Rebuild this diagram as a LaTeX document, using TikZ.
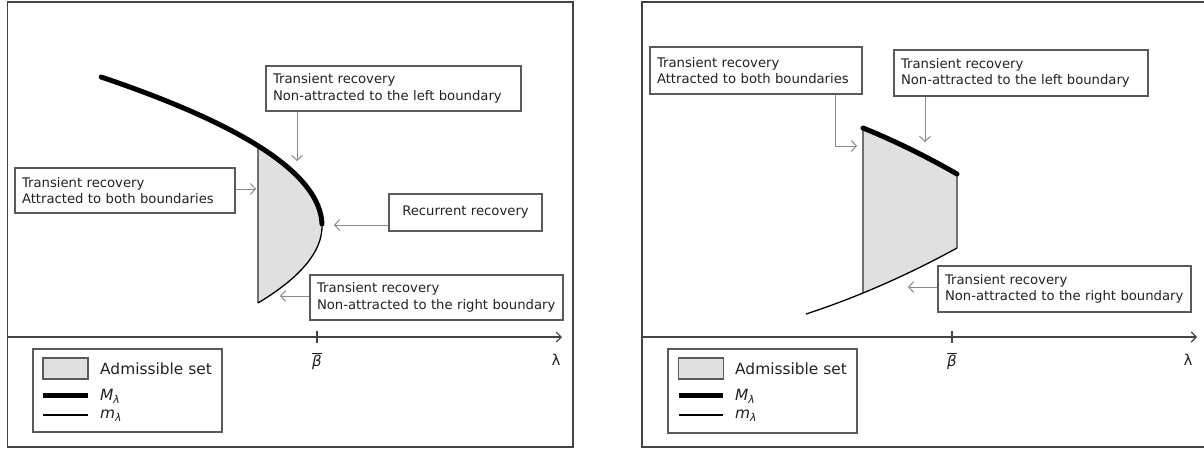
\documentclass[tikz,border=0pt]{standalone}
\usepackage{fontspec}
\setmainfont{DejaVu Sans}
\usetikzlibrary{arrows.meta}
\definecolor{framecol}{HTML}{444444}
\definecolor{boxcol}{HTML}{5A5A5A}
\definecolor{arrcol}{HTML}{8A8A8A}
\definecolor{fillcol}{HTML}{E0E0E0}
\definecolor{txtcol}{HTML}{222222}
\definecolor{vcol}{HTML}{707070}
\begin{document}
\begin{tikzpicture}[x=1pt,y=-1pt,
  frame/.style={draw=framecol,line width=1.4pt},
  box/.style={draw=boxcol,line width=1.4pt,fill=white,text=txtcol,
    font=\fontsize{13.2}{16.5}\selectfont,align=left,inner xsep=7pt,inner ysep=0pt},
  cbox/.style={box,align=center},
  arr/.style={draw=arrcol,line width=1pt,-{Straight Barb[length=5pt,width=11pt]}},
  axisline/.style={draw=framecol,line width=1.1pt,-{Straight Barb[length=5pt,width=10pt]}},
  tick/.style={draw=framecol,line width=1.1pt},
  Mline/.style={draw=black,line width=5pt,line cap=round},
  mline/.style={draw=black,line width=1.3pt},
  vline/.style={draw=vcol,line width=1.3pt},
  admfill/.style={fill=fillcol},
  legbox/.style={draw=boxcol,line width=1.4pt,fill=white},
  swatch/.style={draw=boxcol,line width=1.4pt,fill=fillcol,inner sep=0pt,minimum width=45pt,minimum height=21pt},
  legtxt/.style={anchor=west,text=txtcol,font=\fontsize{15.4}{18}\selectfont,inner sep=0pt},
  axtxt/.style={text=txtcol,font=\fontsize{15}{18}\selectfont,inner sep=0pt}
]
\useasboundingbox (0,0) rectangle (1204,448);

% ---------------- left panel ----------------
\draw[frame] (7.5,2) rectangle (573,447);

% admissible set
\fill[admfill] plot[domain=146:226,samples=50,variable=\t]
   ({322-0.995*((\t-226)/10)*((\t-226)/10)},\t)
   -- plot[domain=226:303,samples=50,variable=\t]
   ({322-1.08*((\t-226)/10)*((\t-226)/10)},\t) -- cycle;
\draw[vline] (258,146) -- (258,303);
\draw[mline] plot[domain=223:303,samples=50,variable=\t]
   ({322-1.08*((\t-226)/10)*((\t-226)/10)},\t);
\draw[Mline] plot[domain=77:224,samples=80,variable=\t]
   ({322-0.995*((\t-226)/10)*((\t-226)/10)},\t);

% axis
\coordinate (oL) at (7.5,337);
\coordinate (eL) at (562,337);
\draw[axisline] (oL) -- (eL);
\coordinate (tkL) at (317,337);
\draw[tick] (317,331) -- (317,343);
\node[axtxt] (betaL) at (317,361) {$\overline{\mbox{\itshape β}}$};
\node[axtxt] (lamL) at (556,360) {λ};

% boxes
\node[box,text width=241pt,minimum height=45pt] (A) at (393.5,88.5)
  {Transient recovery\\Non-attracted to the left boundary};
\node[box,text width=206pt,minimum height=45pt] (B) at (125,190.5)
  {Transient recovery\\Attracted to both boundaries};
\node[cbox,text width=139pt,minimum height=37pt] (C) at (465.5,212.5)
  {Recurrent recovery};
\node[box,text width=239pt,minimum height=45pt] (D) at (436.5,297.5)
  {Transient recovery\\Non-attracted to the right boundary};

\coordinate (tA) at (297,161);
\coordinate (tB) at (256,189);
\coordinate (tC) at (334,225);
\coordinate (tD) at (280,296);
\draw[arr] (A.south -| tA) -- (tA);
\draw[arr] (B.east |- tB) -- (tB);
\draw[arr] (C.west |- tC) -- (tC);
\draw[arr] (D.west |- tD) -- (tD);

% legend
\node[legbox,minimum width=189pt,minimum height=83pt,inner sep=0pt] (legL) at (127.5,390.5) {};
\node[swatch] (swL) at (65.5,368.5) {};
\node[legtxt] (admL) at (100,369) {Admissible set};
\draw[Mline,line cap=butt] (43,395) -- (88,395);
\node[legtxt] (ML) at (100,396) {\textit{M}\textsubscript{\textit{λ}}};
\draw[mline] (43,415) -- (88,415);
\node[legtxt] (mL) at (100,416) {\textit{m}\textsubscript{\textit{λ}}};

% ---------------- right panel ----------------
\draw[frame] (1205,2) -- (642,2) -- (642,447) -- (1205,447);

\fill[admfill] plot[domain=863:957,samples=40]
   (\x,{128+0.4048*(\x-863)+0.09*((\x-863)/10)*((\x-863)/10)})
   -- plot[domain=957:863,samples=40]
   (\x,{314-0.3267*(\x-806)-0.0731*((\x-806)/10)*((\x-806)/10)}) -- cycle;
\draw[vline] (863,128) -- (863,293);
\draw[vline] (957,174) -- (957,248);
\draw[mline] plot[domain=806:957,samples=60]
   (\x,{314-0.3267*(\x-806)-0.0731*((\x-806)/10)*((\x-806)/10)});
\draw[Mline] plot[domain=863:957,samples=40]
   (\x,{128+0.4048*(\x-863)+0.09*((\x-863)/10)*((\x-863)/10)});

% axis
\coordinate (oR) at (642,337);
\coordinate (eR) at (1197,337);
\draw[axisline] (oR) -- (eR);
\draw[tick] (952,331) -- (952,343);
\node[axtxt] (betaR) at (952,361) {$\overline{\mbox{\itshape β}}$};
\node[axtxt] (lamR) at (1188,360) {λ};

% boxes
\node[box,text width=198pt,minimum height=47pt] (B2) at (756,70.5)
  {Transient recovery\\Attracted to both boundaries};
\node[box,text width=240pt,minimum height=46pt] (A2) at (1021,73)
  {Transient recovery\\Non-attracted to the left boundary};
\node[box,text width=239pt,minimum height=46pt] (D2) at (1064.5,289)
  {Transient recovery\\Non-attracted to the right boundary};

\coordinate (kB2) at (835,146);
\coordinate (tB2) at (857,146);
\coordinate (tA2) at (925,142);
\coordinate (tD2) at (908,287);
\draw[arr] (B2.south -| kB2) -- (kB2) -- (tB2);
\draw[arr] (A2.south -| tA2) -- (tA2);
\draw[arr] (D2.west |- tD2) -- (tD2);

% legend
\node[legbox,minimum width=189pt,minimum height=84pt,inner sep=0pt] (legR) at (762.5,391) {};
\node[swatch] (swR) at (701,368.5) {};
\node[legtxt] (admR) at (735,369) {Admissible set};
\draw[Mline,line cap=butt] (679,395) -- (723,395);
\node[legtxt] (MR) at (735,396) {\textit{M}\textsubscript{\textit{λ}}};
\draw[mline] (679,415) -- (723,415);
\node[legtxt] (mR) at (735,416) {\textit{m}\textsubscript{\textit{λ}}};
\end{tikzpicture}
\end{document}
